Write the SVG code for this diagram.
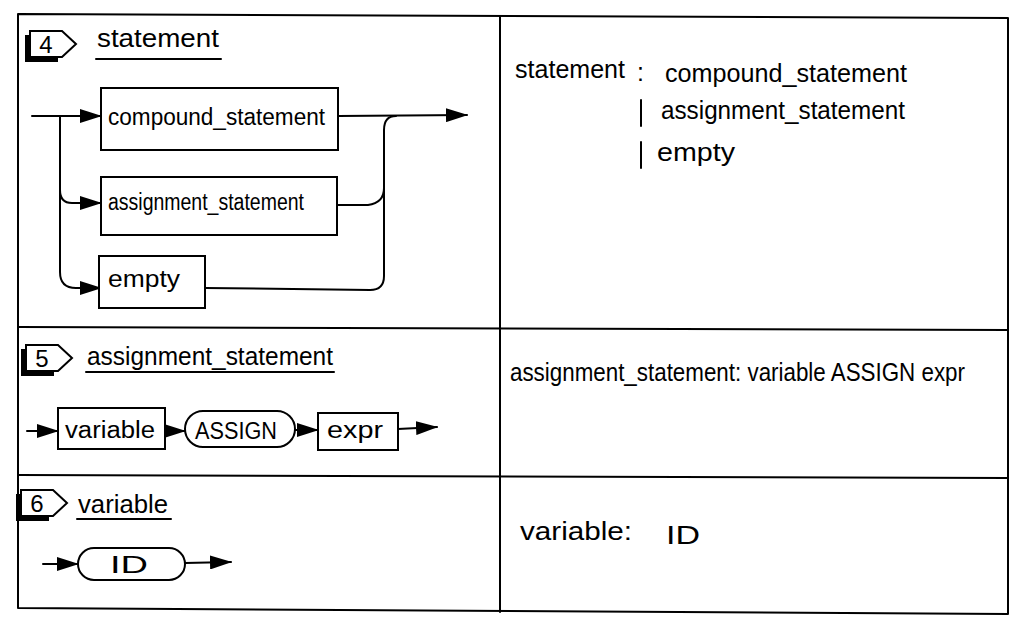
<svg xmlns="http://www.w3.org/2000/svg" width="1024" height="624" viewBox="0 0 1024 624">
<style>
.ln{fill:none;stroke:#000;stroke-width:2;stroke-linecap:round;stroke-linejoin:round}
.bx{fill:#fff;stroke:#000;stroke-width:2}
.t{font-family:"Liberation Sans",Arial,sans-serif;font-size:25px;fill:#000}
.tb{font-family:"Liberation Sans",Arial,sans-serif;font-size:23px;fill:#000}
.num{font-family:"Liberation Sans",Arial,sans-serif;font-size:24px;fill:#000;text-anchor:middle}
</style>
<defs>
<marker id="ah" viewBox="0 0 22 14" refX="21" refY="7" markerWidth="22" markerHeight="14" markerUnits="userSpaceOnUse" orient="auto">
<path d="M0,0 L22,7 L0,14 Z" fill="#000"/>
</marker>
<g id="badge">
<path d="M-5,4 L-5,31 L28,31 L28,26 L0,26 L0,4 Z" fill="#000"/>
<path d="M0,0 L32,0 L46,13 L32,26 L0,26 Z" fill="#fff" stroke="#000" stroke-width="2"/>
</g>
</defs>
<rect width="1024" height="624" fill="#fff"/>
<g id="frame" class="ln">
<path d="M18,14 L1008,18 L1008,614 L18,608 Z"/>
<path d="M18,327 L1008,330"/>
<path d="M18,475 L1008,478"/>
<path d="M500,16 L500,612"/>
</g>
<g id="connectors" class="ln">
<path d="M32,116 L101,116" marker-end="url(#ah)"/>
<path d="M60,116 L60,190 Q60,203 72,203 L101,203" marker-end="url(#ah)"/>
<path d="M60,190 L60,272 Q60,288 76,288 L101,288" marker-end="url(#ah)"/>
<path d="M338,116 L467,115" marker-end="url(#ah)"/>
<path d="M337,205 L368,205 Q384,203 384,188"/>
<path d="M205,288 L370,290 Q384,290 384,276 L384,130 Q384,116 396,116"/>
<path d="M27,431 L58,431" marker-end="url(#ah)"/>
<path d="M165,431 L185,431" marker-end="url(#ah)"/>
<path d="M295,430 L318,430" marker-end="url(#ah)"/>
<path d="M398,429 L437,427" marker-end="url(#ah)"/>
<path d="M43,564 L78,564" marker-end="url(#ah)"/>
<path d="M185,563 L231,562" marker-end="url(#ah)"/>
</g>
<g id="sec4-title">
<use href="#badge" x="30" y="31"/>
<text class="num" x="46" y="53">4</text>
<text class="t" x="97" y="47" textLength="122" lengthAdjust="spacingAndGlyphs">statement</text>
<path class="ln" d="M96,59 L221,59"/>
</g>
<g id="compound_statement">
<rect class="bx" x="101" y="88" width="237" height="62"/>
<text class="tb" x="108" y="125" textLength="217" lengthAdjust="spacingAndGlyphs">compound_statement</text>
</g>
<g id="assignment_statement">
<rect class="bx" x="101" y="177" width="236" height="58"/>
<text class="tb" x="108" y="210" textLength="196" lengthAdjust="spacingAndGlyphs">assignment_statement</text>
</g>
<g id="empty">
<rect class="bx" x="99" y="256" width="106" height="52"/>
<text class="tb" x="108" y="287" textLength="72" lengthAdjust="spacingAndGlyphs">empty</text>
</g>
<g id="sec4-grammar">
<text class="t" x="515" y="78" textLength="110" lengthAdjust="spacingAndGlyphs">statement</text>
<text class="t" x="637" y="81">:</text>
<text class="t" x="665" y="82" textLength="242" lengthAdjust="spacingAndGlyphs">compound_statement</text>
<path class="ln" d="M641,100 L641,126"/>
<text class="t" x="661" y="119" textLength="244" lengthAdjust="spacingAndGlyphs">assignment_statement</text>
<path class="ln" d="M641,142 L641,168"/>
<text class="t" x="657" y="161" textLength="78" lengthAdjust="spacingAndGlyphs">empty</text>
</g>
<g id="sec5-title">
<use href="#badge" x="26" y="345"/>
<text class="num" x="42" y="367">5</text>
<text class="t" x="87" y="365" textLength="246" lengthAdjust="spacingAndGlyphs">assignment_statement</text>
<path class="ln" d="M86,372 L334,372"/>
</g>
<g id="variable">
<rect class="bx" x="58" y="408" width="107" height="41"/>
<text class="tb" x="65" y="438" textLength="90" lengthAdjust="spacingAndGlyphs">variable</text>
</g>
<g id="ASSIGN">
<rect class="bx" x="185" y="411" width="110" height="36" rx="18"/>
<text class="tb" x="195" y="439" textLength="82" lengthAdjust="spacingAndGlyphs">ASSIGN</text>
</g>
<g id="expr">
<rect class="bx" x="318" y="413" width="80" height="37"/>
<text class="tb" x="327" y="438" textLength="56" lengthAdjust="spacingAndGlyphs">expr</text>
</g>
<g id="sec5-grammar">
<text class="t" x="510" y="381" textLength="455" lengthAdjust="spacingAndGlyphs">assignment_statement: variable ASSIGN expr</text>
</g>
<g id="sec6-title">
<use href="#badge" x="21" y="490"/>
<text class="num" x="37" y="512">6</text>
<text class="t" x="78" y="513" textLength="90" lengthAdjust="spacingAndGlyphs">variable</text>
<path class="ln" d="M77,519 L171,519"/>
</g>
<g id="ID">
<rect class="bx" x="78" y="548" width="107" height="32" rx="16"/>
<text class="tb" x="110" y="573" textLength="38" lengthAdjust="spacingAndGlyphs">ID</text>
</g>
<g id="sec6-grammar">
<text class="t" x="520" y="540" textLength="112" lengthAdjust="spacingAndGlyphs">variable:</text>
<text class="t" x="666" y="544" textLength="34" lengthAdjust="spacingAndGlyphs">ID</text>
</g>
</svg>
